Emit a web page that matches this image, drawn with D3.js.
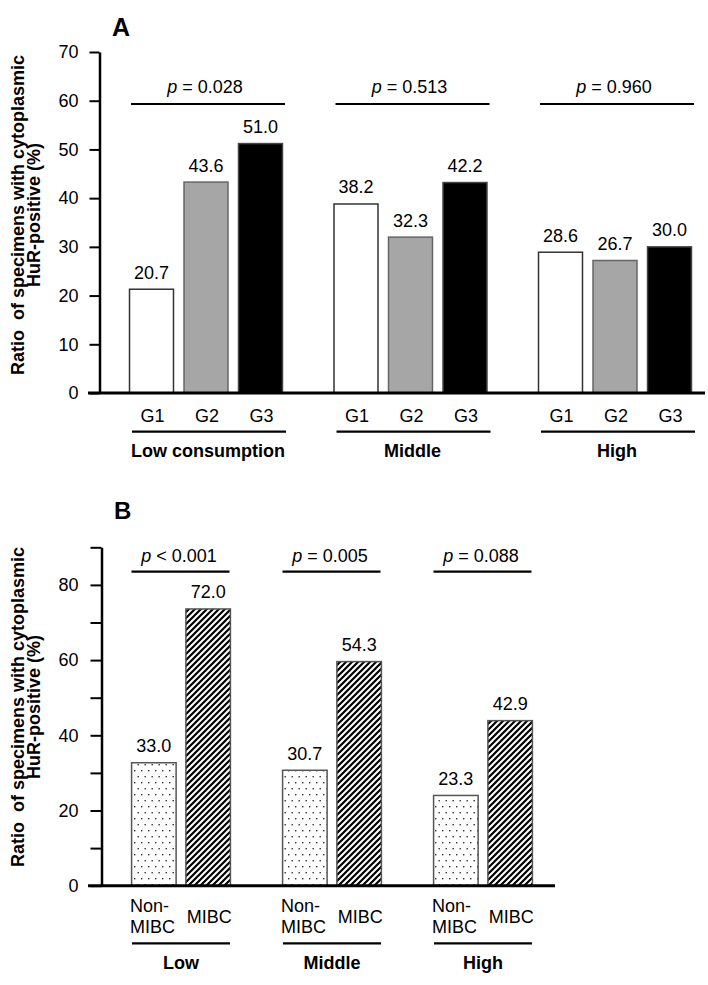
<!DOCTYPE html>
<html><head><meta charset="utf-8">
<script src="https://cdn.jsdelivr.net/npm/d3@7"></script>
<style>
body{margin:0;background:#fff}
svg{display:block}
text{font-family:"Liberation Sans",Arial,sans-serif;fill:#000}
</style>
</head><body>
<svg id="c" width="708" height="985"></svg>
<script>
// ---------- Panel A data ----------
const groupsA = ["Low consumption", "Middle", "High"];
const gradesA = ["G1", "G2", "G3"];
const lowA = [21.3, 43.3, 51.2];      // bar heights as drawn
const middleA = [38.8, 32.0, 43.2];
const highA = [28.9, 27.2, 30.0];
const lowLabelsA = ["20.7", "43.6", "51.0"];
const middleLabelsA = ["38.2", "32.3", "42.2"];
const highLabelsA = ["28.6", "26.7", "30.0"];
const pValuesA = ["= 0.028", "= 0.513", "= 0.960"];
const ticksA = [0, 10, 20, 30, 40, 50, 60, 70];

// ---------- Panel B data ----------
const groupsB = ["Low", "Middle", "High"];
const typesB = ["Non-MIBC", "MIBC"];
const nonMibcB = [32.7, 30.7, 24.0];  // bar heights as drawn
const mibcB = [73.6, 59.6, 43.9];
const nonMibcLabelsB = ["33.0", "30.7", "23.3"];
const mibcLabelsB = ["72.0", "54.3", "42.9"];
const pValuesB = ["< 0.001", "= 0.005", "= 0.088"];
const ticksB = [0, 10, 20, 30, 40, 50, 60, 70, 80, 90];
const tickLabelsB = [0, 20, 40, 60, 80];

const yTitle1 = "Ratio  of specimens with cytoplasmic";
const yTitle2 = "HuR-positive (%)";

const svg = d3.select("#c");
const defs = svg.append("defs");
const hatch = defs.append("pattern").attr("id", "hatch")
  .attr("patternUnits", "userSpaceOnUse").attr("width", 6).attr("height", 6);
hatch.append("rect").attr("width", 6).attr("height", 6).attr("fill", "#fff");
hatch.append("path").attr("d", "M-1,1 l2,-2 M0,6 l6,-6 M5,7 l2,-2")
  .attr("stroke", "#000").attr("stroke-width", 2.2);
const dots = defs.append("pattern").attr("id", "dots")
  .attr("patternUnits", "userSpaceOnUse").attr("width", 7).attr("height", 12);
dots.append("rect").attr("width", 7).attr("height", 12).attr("fill", "#fff");
dots.append("rect").attr("x", 1).attr("y", 2).attr("width", 1.4).attr("height", 1.4).attr("fill", "#333");
dots.append("rect").attr("x", 4.5).attr("y", 8).attr("width", 1.4).attr("height", 1.4).attr("fill", "#333");

function yTitle(cx, cy) {
  const t = svg.append("text").attr("font-weight", "bold").attr("font-size", 18)
    .attr("text-anchor", "middle").style("white-space", "pre")
    .attr("transform", `translate(${cx},${cy}) rotate(-90)`);
  t.append("tspan").attr("x", 0).attr("y", 0).text(yTitle1);
  t.append("tspan").attr("x", 0).attr("y", 15.5).text(yTitle2);
}

function pText(x, y, rest) {
  const t = svg.append("text").attr("x", x).attr("y", y).attr("text-anchor", "middle")
    .attr("font-size", 18);
  t.append("tspan").attr("font-style", "italic").text("p");
  t.append("tspan").text(" " + rest);
}

// ================= Panel A =================
(function () {
  const yA = d3.scaleLinear().domain([0, 70]).range([393, 52]);
  const xA = d3.scalePoint().domain(groupsA).range([206, 615]);
  const innerA = d3.scaleBand().domain(gradesA).range([0, 163.5])
    .paddingInner(0.193).paddingOuter(0.0965);
  const half = 81.75;
  const valuesA = [lowA, middleA, highA];
  const labelsA = [lowLabelsA, middleLabelsA, highLabelsA];
  const fills = ["#ffffff", "#a6a6a6", "#000000"];
  const strokes = ["#333", "#666", "#444"];

  svg.append("text").attr("x", 112).attr("y", 36).attr("font-weight", "bold")
    .attr("font-size", 25).text("A");

  yTitle(24, 215);

  const ax = svg.append("g").attr("transform", "translate(99.5,0)")
    .call(d3.axisLeft(yA).tickValues(ticksA).tickSize(10).tickSizeOuter(0).tickPadding(11)
      .tickFormat(d3.format("d")));
  ax.select(".domain").attr("stroke-width", 2.5).attr("stroke", "#000");
  ax.selectAll(".tick line").attr("stroke-width", 2).attr("stroke", "#000");
  ax.selectAll(".tick text").attr("font-size", 18).attr("font-family", null).attr("fill", "#000");

  const rows = [];
  groupsA.forEach((g, gi) => gradesA.forEach((s, si) => rows.push({
    g, s, si, v: valuesA[gi][si], lab: labelsA[gi][si]
  })));
  const bx = d => xA(d.g) - half + innerA(d.s);

  svg.append("g").selectAll("rect").data(rows).join("rect")
    .attr("x", bx).attr("width", innerA.bandwidth())
    .attr("y", d => yA(d.v)).attr("height", d => yA(0) - yA(d.v))
    .attr("fill", d => fills[d.si]).attr("stroke", d => strokes[d.si]).attr("stroke-width", 1.5);

  svg.append("g").selectAll("text").data(rows).join("text")
    .attr("x", d => bx(d) + innerA.bandwidth() / 2).attr("y", d => yA(d.v) - 10.5)
    .attr("text-anchor", "middle").attr("font-size", 18).text(d => d.lab);

  // baseline
  svg.append("line").attr("x1", 88).attr("x2", 705).attr("y1", yA(0)).attr("y2", yA(0))
    .attr("stroke", "#000").attr("stroke-width", 3);

  // grade labels
  svg.append("g").selectAll("text").data(rows).join("text")
    .attr("x", d => bx(d) + innerA.bandwidth() / 2 + 1).attr("y", 421.5)
    .attr("text-anchor", "middle").attr("font-size", 18).text(d => d.s);

  groupsA.forEach((g, gi) => {
    const c = xA(g);
    svg.append("line").attr("x1", c - 75).attr("x2", c + 79).attr("y1", 104).attr("y2", 104)
      .attr("stroke", "#000").attr("stroke-width", 2.2);
    pText(c - 1, 92.5, pValuesA[gi]);
    svg.append("line").attr("x1", c - 74).attr("x2", c + 80).attr("y1", 431.7).attr("y2", 431.7)
      .attr("stroke", "#000").attr("stroke-width", 2.2);
    svg.append("text").attr("x", c + 2).attr("y", 456.5).attr("text-anchor", "middle")
      .attr("font-size", 18).attr("font-weight", "bold").text(g);
  });
})();

// ================= Panel B =================
(function () {
  const yB = d3.scaleLinear().domain([0, 90]).range([885.7, 885.7 - 90 * 3.76]);
  const xB = d3.scalePoint().domain(groupsB).range([181, 483]);
  const innerB = d3.scaleBand().domain(typesB).range([0, 108.6])
    .paddingInner(0.18).paddingOuter(0.09);
  const half = 54.3;
  const valuesB = [nonMibcB, mibcB];
  const labelsB = [nonMibcLabelsB, mibcLabelsB];
  const fills = ["url(#dots)", "url(#hatch)"];

  svg.append("text").attr("x", 114).attr("y", 519).attr("font-weight", "bold")
    .attr("font-size", 24).text("B");

  yTitle(24, 707);

  const ax = svg.append("g").attr("transform", "translate(101.5,0)")
    .call(d3.axisLeft(yB).tickValues(ticksB).tickSize(11).tickSizeOuter(0).tickPadding(12)
      .tickFormat(d => tickLabelsB.includes(d) ? d3.format("d")(d) : ""));
  ax.select(".domain").attr("stroke-width", 2.5).attr("stroke", "#000");
  ax.selectAll(".tick line").attr("stroke-width", 2).attr("stroke", "#000");
  ax.selectAll(".tick text").attr("font-size", 18).attr("font-family", null).attr("fill", "#000");

  const rows = [];
  groupsB.forEach((g, gi) => typesB.forEach((s, si) => rows.push({
    g, s, si, v: valuesB[si][gi], lab: labelsB[si][gi]
  })));
  const bx = d => xB(d.g) - half + innerB(d.s);

  svg.append("g").selectAll("rect").data(rows).join("rect")
    .attr("x", bx).attr("width", innerB.bandwidth())
    .attr("y", d => yB(d.v)).attr("height", d => yB(0) - yB(d.v))
    .attr("fill", d => fills[d.si]).attr("stroke", "#555").attr("stroke-width", 1.5);

  svg.append("g").selectAll("text").data(rows).join("text")
    .attr("x", d => bx(d) + innerB.bandwidth() / 2).attr("y", d => yB(d.v) - 10.5)
    .attr("text-anchor", "middle").attr("font-size", 18).text(d => d.lab);

  svg.append("line").attr("x1", 88).attr("x2", 555).attr("y1", yB(0)).attr("y2", yB(0))
    .attr("stroke", "#000").attr("stroke-width", 3);

  // category labels
  rows.forEach(d => {
    if (d.si === 0) {
      const parts = d.s.split("-");
      const t = svg.append("text").attr("font-size", 18).attr("text-anchor", "start");
      t.append("tspan").attr("x", bx(d) - 1.5).attr("y", 912).text(parts[0] + "-");
      t.append("tspan").attr("x", bx(d) - 1.5).attr("y", 933).text(parts[1]);
    } else {
      svg.append("text").attr("x", bx(d) + innerB.bandwidth() / 2 + 1).attr("y", 923)
        .attr("text-anchor", "middle").attr("font-size", 18).text(d.s);
    }
  });

  groupsB.forEach((g, gi) => {
    const c = xB(g);
    svg.append("line").attr("x1", c - 49.5).attr("x2", c + 48.5).attr("y1", 571.7).attr("y2", 571.7)
      .attr("stroke", "#000").attr("stroke-width", 2.2);
    pText(c - 2, 561.5, pValuesB[gi]);
    svg.append("line").attr("x1", c - 49).attr("x2", c + 49).attr("y1", 943.3).attr("y2", 943.3)
      .attr("stroke", "#000").attr("stroke-width", 2.2);
    svg.append("text").attr("x", c).attr("y", 968.5).attr("text-anchor", "middle")
      .attr("font-size", 18).attr("font-weight", "bold").text(g);
  });
})();
</script>
</body></html>
